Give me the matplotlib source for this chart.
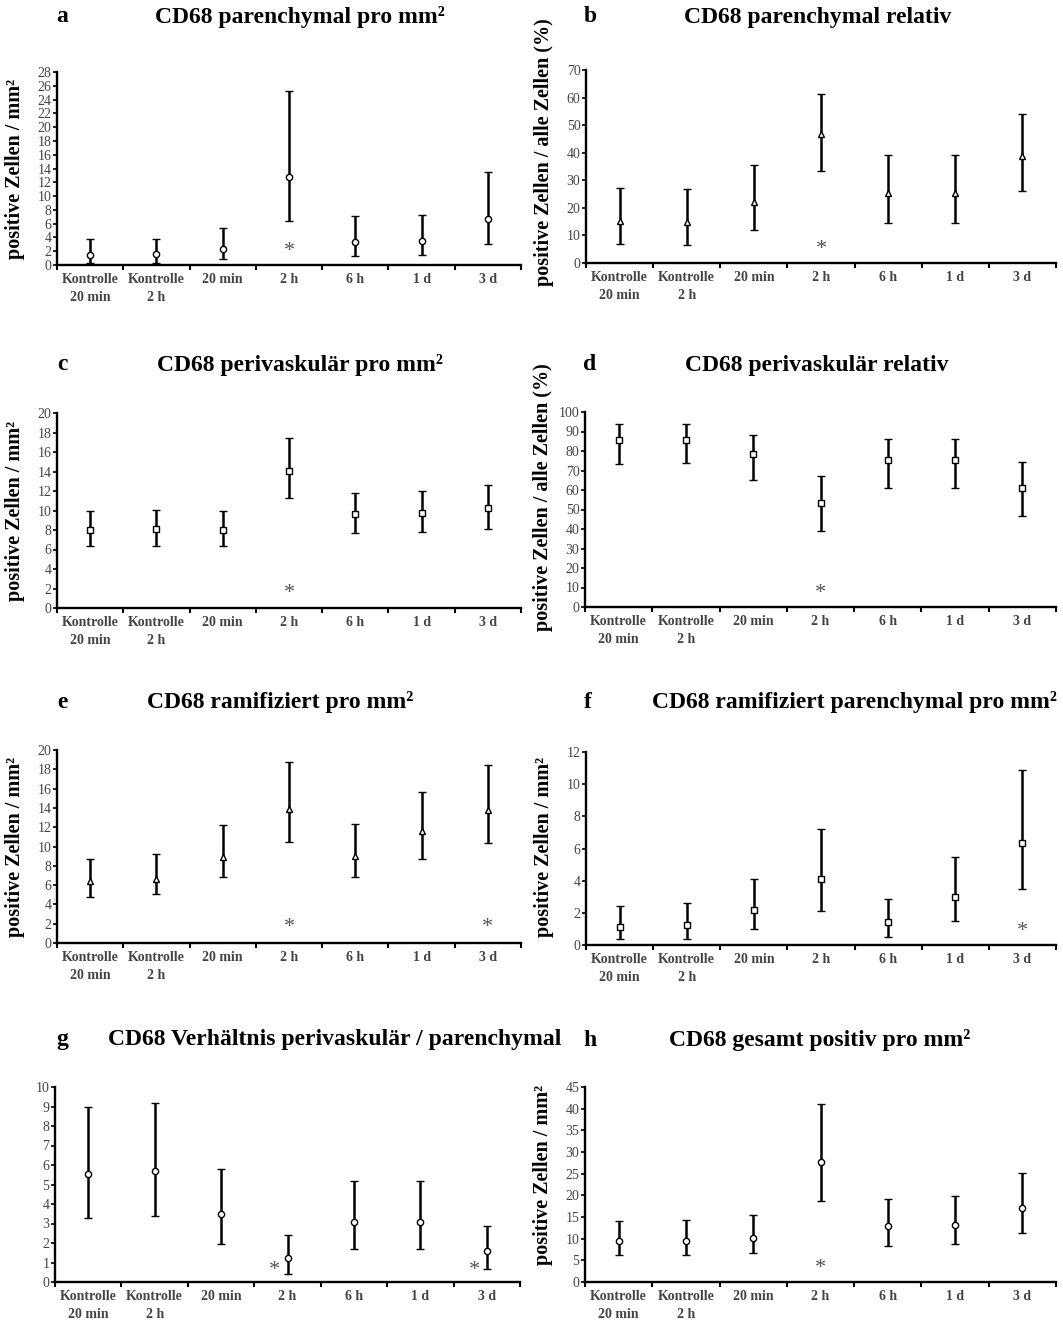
import numpy as np
import matplotlib
matplotlib.use("Agg")
import matplotlib.pyplot as plt
from matplotlib.ticker import MultipleLocator, FixedLocator

plt.rcParams['font.family'] = ['Liberation Serif', 'DejaVu Serif']

groups = ["Kontrolle\n20 min", "Kontrolle\n2 h", "20 min", "2 h", "6 h", "1 d", "3 d"]

# mean, upper and lower end of the error bar for each panel
a_mean = [1.45, 1.6, 2.3, 12.8, 3.3, 3.5, 6.7]
a_hi = [3.7, 3.7, 5.4, 25.2, 7.05, 7.25, 13.5]
a_lo = [0.25, 0.25, 0.8, 6.4, 1.25, 1.4, 3.1]

b_mean = [15.3, 14.7, 22.3, 46.9, 25.5, 25.5, 38.9]
b_hi = [27.1, 26.7, 35.7, 61.3, 39.1, 39.1, 53.9]
b_lo = [6.9, 6.4, 12.0, 33.2, 14.4, 14.4, 26.2]

c_mean = [7.97, 8.1, 7.97, 14.1, 9.6, 9.7, 10.3]
c_hi = [9.9, 10.05, 9.9, 17.4, 11.8, 12.0, 12.6]
c_lo = [6.4, 6.4, 6.4, 11.3, 7.7, 7.8, 8.1]

d_mean = [85.5, 85.5, 78.3, 53.5, 75.2, 75.2, 60.9]
d_hi = [93.7, 93.7, 88.2, 67.0, 86.3, 86.3, 74.4]
d_lo = [73.2, 73.8, 65.0, 38.8, 61.2, 61.2, 46.8]

e_mean = [6.4, 6.6, 8.9, 13.9, 9.05, 11.6, 13.8]
e_hi = [8.75, 9.2, 12.2, 18.75, 12.3, 15.6, 18.4]
e_lo = [4.8, 5.1, 6.8, 10.45, 6.8, 8.75, 10.35]

f_mean = [1.15, 1.27, 2.18, 4.09, 1.4, 3.0, 6.35]
f_hi = [2.45, 2.6, 4.13, 7.24, 2.84, 5.5, 10.9]
f_lo = [0.35, 0.35, 1.0, 2.14, 0.48, 1.5, 3.49]

g_mean = [5.52, 5.71, 3.49, 1.22, 3.08, 3.08, 1.57]
g_hi = [8.95, 9.19, 5.82, 2.41, 5.2, 5.2, 2.87]
g_lo = [3.29, 3.39, 1.94, 0.43, 1.69, 1.69, 0.69]

h_mean = [9.4, 9.4, 10.2, 27.7, 13.0, 13.2, 17.0]
h_hi = [14.1, 14.2, 15.5, 41.0, 19.2, 19.8, 25.2]
h_lo = [6.15, 6.15, 6.7, 18.6, 8.4, 8.7, 11.4]

# significant groups (index, asterisk height)
a_sig = [(3, 2.0)]
b_sig = [(3, 5.0)]
c_sig = [(3, 1.5)]
d_sig = [(3, 7.0)]
e_sig = [(3, 1.6), (6, 1.6)]
f_sig = [(6, 0.85)]
g_sig = [(3, 0.57), (6, 0.6)]
h_sig = [(3, 3.2)]

W, H = 1063, 1327
fig = plt.figure(figsize=(W / 100, H / 100), dpi=100)

def px_axes(left, top, right, bottom):
    return fig.add_axes([left / W, 1 - bottom / H, (right - left) / W, (bottom - top) / H])

panels = [
    # letter, title, box, ymax, ystep, marker, data, sig, ylabel, label y, letter x, title x, title align, title y
    ("a", "CD68 parenchymal pro mm²", (57, 72, 521, 265), 28, 2, "o", (a_mean, a_hi, a_lo), a_sig,
     "positive Zellen / mm²", 0.5, 62, 300, "center", 17),
    ("b", "CD68 parenchymal relativ", (586, 70, 1056, 263), 70, 10, "^", (b_mean, b_hi, b_lo), b_sig,
     "positive Zellen / alle Zellen (%)", 0.575, 590, 818, "center", 17),
    ("c", "CD68 perivaskulär pro mm²", (57, 413, 521, 608), 20, 2, "s", (c_mean, c_hi, c_lo), c_sig,
     "positive Zellen / mm²", 0.5, 62, 300, "center", 365),
    ("d", "CD68 perivaskulär relativ", (585, 412, 1056, 607), 100, 10, "s", (d_mean, d_hi, d_lo), d_sig,
     "positive Zellen / alle Zellen (%)", 0.564, 590, 817, "center", 365),
    ("e", "CD68 ramifiziert pro mm²", (57, 750, 521, 943), 20, 2, "^", (e_mean, e_hi, e_lo), e_sig,
     "positive Zellen / mm²", 0.5, 62, 280, "center", 702),
    ("f", "CD68 ramifiziert parenchymal pro mm²", (586, 752, 1056, 945), 12, 2, "s", (f_mean, f_hi, f_lo), f_sig,
     "positive Zellen / mm²", 0.51, 588, 652, "left", 702),
    ("g", "CD68 Verhältnis perivaskulär / parenchymal", (55, 1087, 520, 1282), 10, 1, "o", (g_mean, g_hi, g_lo), g_sig,
     None, 0.5, 62, 108, "left", 1040),
    ("h", "CD68 gesamt positiv pro mm²", (585, 1087, 1056, 1282), 45, 5, "o", (h_mean, h_hi, h_lo), h_sig,
     "positive Zellen / mm²", 0.55, 590, 820, "center", 1040),
]

x = np.arange(len(groups)) + 0.5

for letter, title, box, ymax, ystep, marker, (mean, hi, lo), sig, ylabel, ly, lx, tx, ta, ty in panels:
    ax = px_axes(*box)
    mean = np.array(mean)
    err = [mean - np.array(lo), np.array(hi) - mean]
    ms = 5 if marker != "o" else 4.5
    ax.errorbar(x, mean, yerr=err, fmt=marker, ms=ms, mfc="white", mec="black", mew=1.0,
                ecolor="black", elinewidth=1.8, capsize=3.2, capthick=1.8, zorder=3)
    for idx, yv in sig:
        dx = -0.19 if letter == "g" else 0.0
        ax.text(x[idx] + dx, yv, "*", ha="center", va="center", fontsize=16, color="#555555")

    ax.set_xlim(0, len(groups))
    ax.set_ylim(0, ymax)
    ax.yaxis.set_major_locator(MultipleLocator(ystep))
    ax.xaxis.set_major_locator(FixedLocator(np.arange(len(groups) + 1)))
    ax.xaxis.set_minor_locator(FixedLocator(x))
    ax.set_xticklabels([])
    ax.set_xticklabels(groups, minor=True, fontweight="bold", fontsize=10, color="#444444", linespacing=1.45)
    ax.tick_params(axis="x", which="major", direction="out", length=3.5, width=1.5)
    ax.tick_params(axis="x", which="minor", length=0, pad=6)
    ax.tick_params(axis="y", direction="out", length=3, width=1.2, pad=1, labelsize=10, labelcolor="#444444")
    for s in ("top", "right"):
        ax.spines[s].set_visible(False)
    for s in ("left", "bottom"):
        ax.spines[s].set_linewidth(1.7)
    if ylabel:
        ax.set_ylabel(ylabel, fontweight="bold", fontsize=14.5, labelpad=2)
        ax.yaxis.set_label_coords(-0.068, ly)

    fig.text(lx / W, 1 - ty / H, letter, fontsize=17, fontweight="bold", ha="center", va="center")
    fig.text(tx / W, 1 - ty / H, title, fontsize=17, fontweight="bold", ha=ta, va="center")

fig.savefig("out.png", dpi=100)
